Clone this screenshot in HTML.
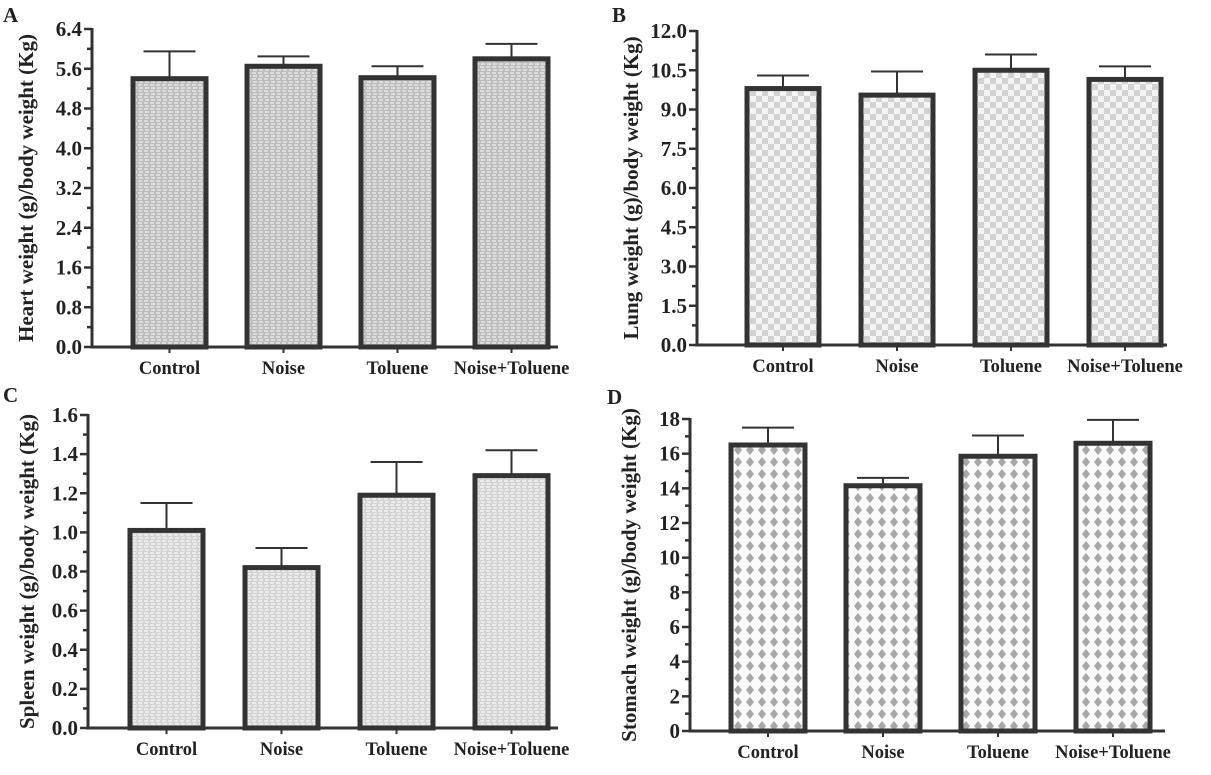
<!DOCTYPE html>
<html><head><meta charset="utf-8"><style>
html,body{margin:0;padding:0;background:#fff}
svg{display:block;font-family:"Liberation Serif",serif;font-weight:bold}
</style></head><body>
<svg id="fig" width="1211" height="775" viewBox="0 0 1211 775">
<defs>
<pattern id="patA" width="6" height="6" patternUnits="userSpaceOnUse"><rect width="6" height="6" fill="#bdbdbd"/><path d="M0 1h4M1 4h4" stroke="#eeeeee" stroke-width="1.2"/></pattern>
<pattern id="patB" width="12" height="12" patternUnits="userSpaceOnUse"><rect width="12" height="12" fill="#f4f4f4"/><rect width="6" height="6" fill="#d2d2d2"/><rect x="6" y="6" width="6" height="6" fill="#d2d2d2"/></pattern>
<pattern id="patC" width="6" height="6" patternUnits="userSpaceOnUse"><rect width="6" height="6" fill="#d4d4d4"/><path d="M0 1h4M1 4h4" stroke="#f7f7f7" stroke-width="1.2"/></pattern>
<pattern id="patD" width="12" height="12" patternUnits="userSpaceOnUse"><rect width="12" height="12" fill="#fafafa"/><path d="M6 1l4 5-4 5-4-5z" fill="#a8a8a8"/></pattern>
</defs>
<g id="root"></g>
</svg>
<script>
var categories = ["Control","Noise","Toluene","Noise+Toluene"];
var heartMeans = [5.4, 5.65, 5.42, 5.8];
var heartErr = [0.55, 0.2, 0.23, 0.3];
var lungMeans = [9.8, 9.55, 10.5, 10.15];
var lungErr = [0.5, 0.9, 0.6, 0.5];
var spleenMeans = [1.01, 0.82, 1.19, 1.29];
var spleenErr = [0.14, 0.1, 0.17, 0.13];
var stomachMeans = [16.5, 14.15, 15.85, 16.6];
var stomachErr = [1.0, 0.45, 1.2, 1.35];
var heartTicks = ["0.0","0.8","1.6","2.4","3.2","4.0","4.8","5.6","6.4"];
var lungTicks = ["0.0","1.5","3.0","4.5","6.0","7.5","9.0","10.5","12.0"];
var spleenTicks = ["0.0","0.2","0.4","0.6","0.8","1.0","1.2","1.4","1.6"];
var stomachTicks = ["0","2","4","6","8","10","12","14","16","18"];

var NS="http://www.w3.org/2000/svg";
var root=document.getElementById('root');
function mk(tag,attrs,parent){var e=document.createElementNS(NS,tag);for(var k in attrs)e.setAttribute(k,attrs[k]);(parent||root).appendChild(e);return e;}

function panel(o){
  var g=mk('g',{});
  
  
  var ticks=o.ticks, max=parseFloat(ticks[ticks.length-1]);
  function y(v){return o.y0-(v/max)*(o.y0-o.y1);}
  function x(i){return o.x0+o.firstBar+i*o.step;}
  var lt=mk('text',{x:o.letterX,y:o.letterY,'font-size':21,fill:'#222'},g);lt.textContent=o.letter;
  
  
  for(var i=0;i<categories.length;i++){
    var v=o.means[i], e=o.err[i], bx=x(i);
    var eb=mk('path',{d:'M'+(bx+o.bw/2)+' '+y(v)+'V'+y(v+e)+'M'+(bx+o.bw/2-26)+' '+y(v+e)+'h52',stroke:'#333','stroke-width':2,fill:'none'},g);
    
    
    var r=mk('rect',{x:bx,y:y(v),width:o.bw,height:o.y0-y(v),fill:'url(#'+o.pat+')',stroke:'#333','stroke-width':5},g);
    
    
    var t=mk('text',{x:bx+o.bw/2,y:o.y0+27,'font-size':18.5,'text-anchor':'middle',fill:'#222'},g);t.textContent=categories[i];
    
    
    mk('line',{x1:bx+o.bw/2,x2:bx+o.bw/2,y1:o.y0,y2:o.y0+6,stroke:'#333','stroke-width':2},g);
  }
  var ax=mk('path',{d:'M'+o.x0+' '+(o.y1-1)+'V'+o.y0+'H'+(o.x0+o.xlen),stroke:'#333','stroke-width':3,fill:'none'},g);
  
  
  var step=max/(ticks.length-1);
  for(var j=0;j<ticks.length;j++){
    var tv=parseFloat(ticks[j]);
    mk('line',{x1:o.x0-8,x2:o.x0,y1:y(tv),y2:y(tv),stroke:'#333','stroke-width':2.5},g);
    if(j<ticks.length-1) mk('line',{x1:o.x0-5,x2:o.x0,y1:y(tv+step/2),y2:y(tv+step/2),stroke:'#333','stroke-width':2.5},g);
    var tl=mk('text',{x:o.x0-10,y:y(tv)+7,'font-size':21,'text-anchor':'end',fill:'#222'},g);tl.textContent=ticks[j];
    
    
  }
  var cy=(o.y0+o.y1)/2;
  var yt=mk('text',{x:0,y:0,'font-size':21,'text-anchor':'middle',fill:'#222',transform:'translate('+o.titleX+','+cy+') rotate(-90)'},g);yt.textContent=o.title;
  
  
}
panel({name:'panel-a-heart',letter:'A',letterX:3,letterY:22,x0:92,y0:347,y1:29,xlen:466,firstBar:41,step:114,bw:73,means:heartMeans,err:heartErr,ticks:heartTicks,pat:'patA',title:'Heart weight (g)/body weight (Kg)',titleX:33});
panel({name:'panel-b-lung',letter:'B',letterX:612,letterY:22,x0:697,y0:345,y1:31,xlen:470,firstBar:50,step:114,bw:72,means:lungMeans,err:lungErr,ticks:lungTicks,pat:'patB',title:'Lung weight (g)/body weight (Kg)',titleX:638});
panel({name:'panel-c-spleen',letter:'C',letterX:3,letterY:402,x0:88,y0:728,y1:415,xlen:470,firstBar:42,step:115,bw:73,means:spleenMeans,err:spleenErr,ticks:spleenTicks,pat:'patC',title:'Spleen weight (g)/body weight (Kg)',titleX:34});
panel({name:'panel-d-stomach',letter:'D',letterX:607,letterY:404,x0:690,y0:731,y1:419,xlen:475,firstBar:41,step:115,bw:74,means:stomachMeans,err:stomachErr,ticks:stomachTicks,pat:'patD',title:'Stomach weight (g)/body weight (Kg)',titleX:636});
</script>
</body></html>
